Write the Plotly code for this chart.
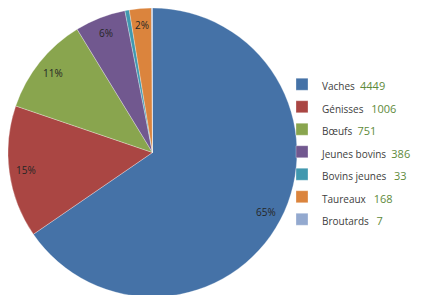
import math
import plotly.graph_objects as go

categories = ["Vaches", "Génisses", "Bœufs", "Jeunes bovins", "Bovins jeunes", "Taureaux", "Broutards"]
values = [4449, 1006, 751, 386, 33, 168, 7]
colors = ["#4572A7", "#AA4643", "#89A54E", "#71588F", "#4198AF", "#DB843D", "#93A9CF"]
gap_counts = [2, 3, 2, 2, 3, 3, 3]

# the page body adds an 8px margin; the figure is laid out in its own pixels
W, H = 450, 289
dom_x = [0.0, 289 / W]
dom_y = [0.0, 1.0]

legend_labels = [
    f"<span style='font-size:10px'>{c}{chr(160) * g}</span><span style='color:#5E8A3A;font-size:11px'>{v}</span>"
    for c, g, v in zip(categories, gap_counts, values)
]

fig = go.Figure(go.Pie(
    labels=legend_labels,
    values=values,
    sort=False,
    direction="clockwise",
    rotation=0,
    marker=dict(colors=colors, line=dict(color="rgba(255,255,255,0.5)", width=0.6)),
    textinfo="none",
    domain=dict(x=dom_x, y=dom_y),
    hoverinfo="label+value+percent",
))

# percentage labels placed near the outer edge, computed from the data
total = sum(values)
cx = (dom_x[0] + dom_x[1]) / 2 * W
cy_top = H - (dom_y[0] + dom_y[1]) / 2 * H
R = min((dom_x[1] - dom_x[0]) * W, (dom_y[1] - dom_y[0]) * H) / 2
cum = 0
for v in values:
    frac = v / total
    mid = cum + frac / 2
    cum += frac
    pct = round(frac * 100)
    if frac < 0.015:
        continue
    a = mid * 2 * math.pi
    r = 0.885 * R
    px = cx + r * math.sin(a)
    py = cy_top - r * math.cos(a)
    fig.add_annotation(
        x=px / W, y=(H - py) / H, xref="paper", yref="paper",
        xanchor="center", yanchor="middle",
        text=f"{pct}%", showarrow=False,
        font=dict(family="Open Sans", size=10, color="#262626"),
    )

fig.update_layout(
    width=W, height=H,
    margin=dict(l=0, r=0, t=0, b=0, autoexpand=False),
    paper_bgcolor="white",
    plot_bgcolor="white",
    font=dict(family="Open Sans", size=10, color="#404040"),
    legend=dict(
        x=274 / W, y=0.7924, xanchor="left", yanchor="top",
        font=dict(family="Open Sans", size=15, color="#404040"),
        bgcolor="rgba(0,0,0,0)",
    ),
)

fig.write_html("out.html")
